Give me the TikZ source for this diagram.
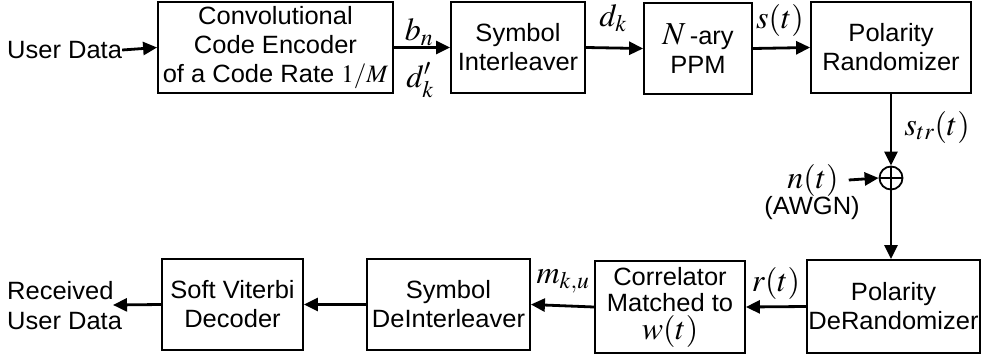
\documentclass[tikz,border=0pt]{standalone}
\usepackage[no-math]{fontspec}
\usepackage{mathptmx}
\setmainfont[FakeStretch=1.02]{Liberation Sans}
\usetikzlibrary{arrows.meta}
\newcommand{\bigmath}[1]{{\fontsize{32}{26}\selectfont#1}}
\begin{document}
\begin{tikzpicture}[x=1pt,y=-1pt,
  blk/.style={draw,line width=1.8pt,inner sep=0pt,align=center,font=\fontsize{25}{29}\selectfont},
  con/.style={line width=2.8pt,-{Triangle[length=14pt,width=13pt]}},
  lbl/.style={inner sep=0pt,font=\fontsize{32}{34}\selectfont},
  txt/.style={inner sep=0pt,align=left,font=\fontsize{25}{30}\selectfont}]
\useasboundingbox (0,0) rectangle (982,356);
\node[blk,minimum width=235pt,minimum height=91pt] (enc) at (275.5,47.5) {Convolutional\\Code Encoder\\of a Code Rate $1/M$};
\node[blk,minimum width=134pt,minimum height=91pt] (il) at (518,47.5) {Symbol\\Interleaver};
\node[blk,minimum width=108pt,minimum height=91pt] (ppm) at (698,48.5) {\bigmath{$N$}\,-ary\\PPM};
\node[blk,minimum width=160pt,minimum height=91pt] (rand) at (891,47.5) {Polarity\\Randomizer};
\node[draw,circle,line width=1.8pt,minimum size=23pt,inner sep=0pt] (sum) at (891,178) {};
\draw[line width=1.8pt] (sum.north) -- (sum.south) (sum.west) -- (sum.east);
\node[blk,minimum width=173pt,minimum height=93pt] (der) at (893.5,306.5) {Polarity\\DeRandomizer};
\node[blk,minimum width=150pt,minimum height=92pt,font=\fontsize{25}{26}\selectfont] (cor) at (670,307) {Correlator\\Matched to\\[2pt]\bigmath{$w(t)$}};
\node[blk,minimum width=163pt,minimum height=91pt] (dil) at (448.5,304.5) {Symbol\\DeInterleaver};
\node[blk,minimum width=141pt,minimum height=91pt] (vit) at (232.5,304.5) {Soft Viterbi\\Decoder};
\node[txt,anchor=west] (ud) at (7,50) {User Data};
\node[txt,anchor=west] (rud) at (7,306) {Received\\User Data};
\node[lbl] (nt) at (813,180) {$n(t)$};
\node[txt] (awgn) at (812,208) {(AWGN)};
\coordinate (rudE) at (113,305);
\draw[con] (ud.east) -- (enc.west);
\draw[con] (enc.east) -- (il.west);
\draw[con] (il.east) -- (ppm.west);
\draw[con] (ppm.east) -- (rand.west);
\draw[con] (rand.south) -- (sum.north);
\draw[con] (nt.east) ++(10,0) -- (sum.west);
\draw[con] (sum.south) -- (sum.south |- der.north);
\draw[con] (der.west) -- (cor.east);
\draw[con] (cor.west) -- (dil.east);
\draw[con] (dil.west) -- (vit.east);
\draw[con] (vit.west) -- (rudE);
\node[lbl] (bn) at (419,32) {$b_n$};
\node[lbl] (dk1) at (420,80) {$d'_k$};
\node[lbl] (dk) at (613,18) {$d_k$};
\node[lbl] (st) at (780,20) {$s(t)$};
\node[lbl] (str) at (937,127) {$s_{tr}(t)$};
\node[lbl] (mku) at (563,281) {$m_{k,u}$};
\node[lbl] (rt) at (776,283) {$r(t)$};
\end{tikzpicture}
\end{document}
